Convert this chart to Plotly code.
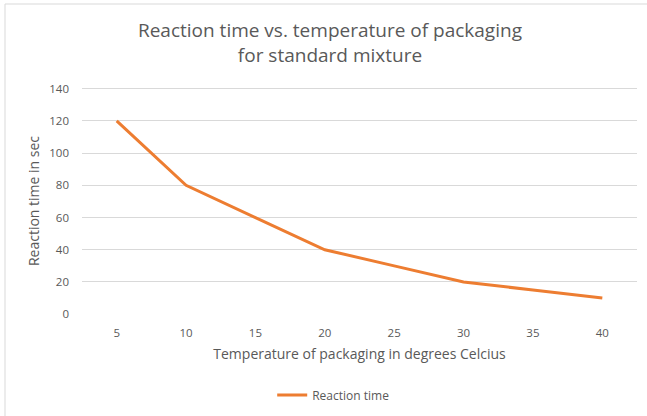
import plotly.graph_objects as go

temperatures = [5, 10, 15, 20, 25, 30, 35, 40]
reaction_time = [120, 80, 60, 40, 30, 20, 15, 10]
y_ticks = [0, 20, 40, 60, 80, 100, 120, 140]

W, H = 647, 416
L, R, T, B = 82, 10, 87, 101
pw, ph = W - L - R, H - T - B

fig = go.Figure()
fig.add_trace(go.Scatter(
    x=temperatures, y=reaction_time, mode="lines", name="Reaction time",
    line=dict(color="#ED7D31", width=3),
))

grey = "#595959"
fig.update_layout(
    width=W, height=H,
    margin=dict(l=L, r=R, t=T, b=B),
    paper_bgcolor="white", plot_bgcolor="white",
    font=dict(family="Open Sans, Lato, sans-serif", color=grey, size=11),
    title=dict(
        text="Reaction time vs. temperature of packaging<br>for standard mixture",
        x=0.51, xref="container", xanchor="center",
        y=1 - 37 / H, yref="container", yanchor="middle",
        font=dict(size=19, color=grey),
    ),
    xaxis=dict(
        range=[2.5, 42.5], tickvals=temperatures, ticktext=[str(t) for t in temperatures],
        showgrid=False, zeroline=False, showline=False, ticks="",
        ticklabelstandoff=9,
        title=dict(text="Temperature of packaging in degrees Celcius", font=dict(size=14, color=grey), standoff=10),
        tickfont=dict(size=11.5, color=grey), fixedrange=True,
    ),
    yaxis=dict(
        range=[-0.5, 141], tickvals=y_ticks,
        showgrid=True, gridcolor="#d9d9d9", gridwidth=1,
        zeroline=False, showline=False, ticks="", ticklen=0,
        ticklabelstandoff=12,
        title=dict(text="Reaction time in sec", font=dict(size=14, color=grey), standoff=6),
        tickfont=dict(size=11.5, color=grey), fixedrange=True,
    ),
    showlegend=True,
    legend=dict(
        orientation="h", xref="container", x=0.515, xanchor="center",
        yref="container", y=1 - 395 / H, yanchor="middle",
        font=dict(size=12, color=grey),
    ),
)

# chart frame (left and top edges visible in reference)
x0p = (5 - L) / pw
y1p = 1 + (T - 4) / ph
fig.add_shape(type="line", xref="paper", yref="paper", x0=x0p, x1=x0p, y0=-(B) / ph - 0.01, y1=y1p,
              line=dict(color="#d9d9d9", width=1))
fig.add_shape(type="line", xref="paper", yref="paper", x0=x0p, x1=1 + R / pw + 0.01, y0=y1p, y1=y1p,
              line=dict(color="#d9d9d9", width=1))

fig.write_html("out.html", config={"displayModeBar": False},
               post_script="document.body.style.margin='0px';")
